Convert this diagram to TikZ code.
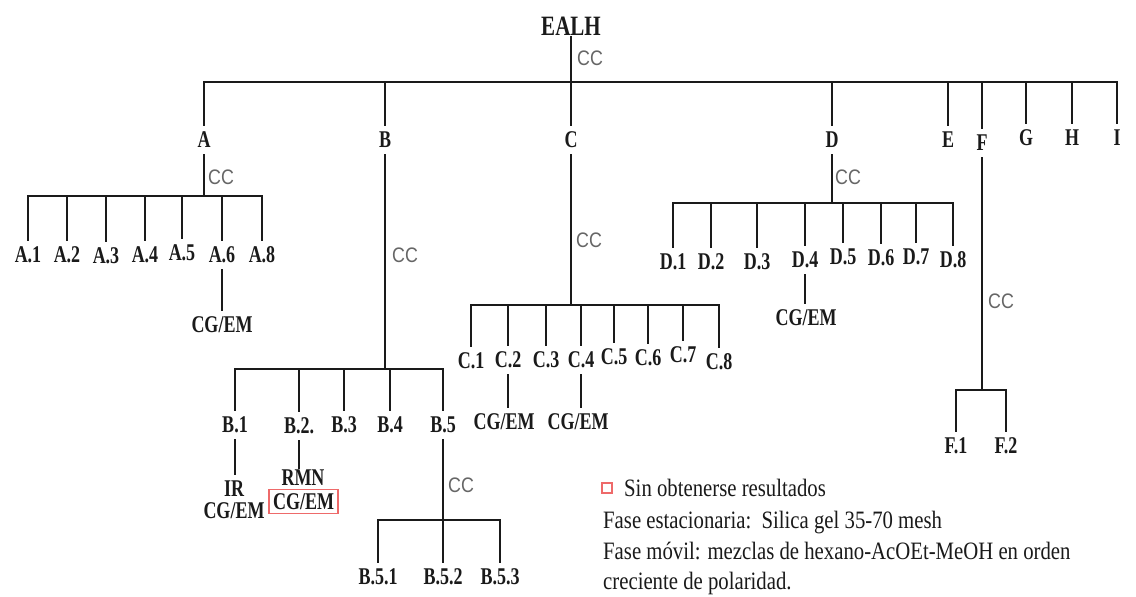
\documentclass[tikz,border=0pt]{standalone}
\usepackage{fontspec}
\setmainfont{Liberation Serif}
\newfontfamily\lblfont[FakeStretch=0.75]{Liberation Serif}
\newfontfamily\ccfont[FakeStretch=0.85]{Liberation Sans}
\newfontfamily\legfont[FakeStretch=0.83]{Liberation Serif}
\definecolor{ccgray}{HTML}{666666}
\definecolor{boxred}{HTML}{EE6A6A}
\definecolor{lnblack}{HTML}{1A1A1A}
\tikzset{
  lbl/.style={font=\lblfont\bfseries\fontsize{24}{24}\selectfont, text=lnblack,
    inner xsep=1pt, inner ysep=6pt, text height=15.8pt, text depth=0pt},
  rootlbl/.style={font=\lblfont\bfseries\fontsize{28}{28}\selectfont, text=lnblack,
    inner xsep=1pt, inner ysep=0.5pt, text height=18.5pt, text depth=0pt},
  cc/.style={font=\ccfont\fontsize{21}{21}\selectfont, text=ccgray, inner sep=0pt,
    anchor=west, text height=15pt, text depth=0pt},
  leg/.style={font=\legfont\fontsize{25}{25}\selectfont, text=lnblack, inner sep=0pt,
    anchor=west, text height=16.5pt, text depth=0pt},
  ln/.style={draw=lnblack, line width=2.8pt},
}
\begin{document}
\begin{tikzpicture}[x=1pt,y=-1pt]
\useasboundingbox[fill=white] (0,0) rectangle (1136,597);

% root
\node[rootlbl] (EALH) at (571,26) {EALH};
\coordinate (mainbar) at (571,82);
\node[cc] (ccroot) at (577,58) {CC};

% first level
\node[lbl] (A) at (204,140) {A};
\node[lbl] (B) at (385,140) {B};
\node[lbl] (C) at (571,140) {C};
\node[lbl] (D) at (832,140) {D};
\node[lbl] (E) at (948,140) {E};
\node[lbl] (F) at (982,143) {F};
\node[lbl] (G) at (1026,138) {G};
\node[lbl] (H) at (1072,138) {H};
\node[lbl] (I) at (1117,138) {I};

\draw[ln] (EALH.south) -- (mainbar);
\foreach \n in {A,B,D,E,F,G,H,I} \draw[ln] (\n.north) |- (mainbar);
\draw[ln] (mainbar) -- (C.north);

% ---- A branch
\coordinate (Abar) at (204,196);
\node[cc] (ccA) at (208,177) {CC};
\node[lbl] (A1) at (28,255) {A.1};
\node[lbl] (A2) at (67,255) {A.2};
\node[lbl] (A3) at (106,256) {A.3};
\node[lbl] (A4) at (145,255) {A.4};
\node[lbl] (A5) at (182,253) {A.5};
\node[lbl] (A6) at (222,255) {A.6};
\node[lbl] (A8) at (262,255) {A.8};
\draw[ln] (A.south) -- (Abar);
\foreach \n in {A1,A2,A3,A4,A5,A6,A8} \draw[ln] (\n.north) |- (Abar);
\node[lbl] (A6cg) at (222,325) {CG/EM};
\draw[ln] (A6.south) -- (A6cg.north);

% ---- B branch
\coordinate (Bbar) at (385,369);
\node[cc] (ccB) at (392,255) {CC};
\node[lbl] (B1) at (235,425) {B.1};
\node[lbl] (B2) at (299,426) {B.2.};
\node[lbl] (B3) at (344,425) {B.3};
\node[lbl] (B4) at (390,425) {B.4};
\node[lbl] (B5) at (443,425) {B.5};
\draw[ln] (B.south) -- (Bbar);
\foreach \n in {B1,B2,B3,B4,B5} \draw[ln] (\n.north) |- (Bbar);

\node[lbl, inner ysep=0pt] (B1ir) at (234,489) {IR};
\node[lbl, inner ysep=0pt] (B1cg) at (234,511) {CG/EM};
\draw[ln, shorten >=6pt] (B1.south) -- (B1.south |- B1ir.north);

\node[lbl, inner ysep=1pt] (B2rmn) at (303,478) {RMN};
\node[lbl, inner xsep=2pt, inner ysep=4pt, draw=boxred, line width=1.4pt,
      minimum width=69pt] (B2cg) at (303.5,501.5) {CG/EM};
\draw[ln] (B2.south) -- (B2.south |- B2rmn.north);

\coordinate (B5bar) at (443,520);
\node[cc] (ccB5) at (448,485) {CC};
\draw[ln] (B5.south) -- (B5bar);
\node[lbl] (B51) at (378,577) {B.5.1};
\node[lbl] (B52) at (443,577) {B.5.2};
\node[lbl] (B53) at (500,577) {B.5.3};
\draw[ln] (B5bar) -- (B52.north);
\draw[ln] (B51.north) |- (B5bar);
\draw[ln] (B53.north) |- (B5bar);

% ---- C branch
\coordinate (Cbar) at (571,305);
\node[cc] (ccC) at (576,240) {CC};
\node[lbl] (C1) at (471,361) {C.1};
\node[lbl] (C2) at (508,360) {C.2};
\node[lbl] (C3) at (546,360) {C.3};
\node[lbl] (C4) at (581,360) {C.4};
\node[lbl] (C5) at (614,357) {C.5};
\node[lbl] (C6) at (648,358) {C.6};
\node[lbl] (C7) at (683,355) {C.7};
\node[lbl] (C8) at (719,362) {C.8};
\draw[ln] (C.south) -- (Cbar);
\foreach \n in {C1,C2,C3,C4,C5,C6,C7,C8} \draw[ln] (\n.north) |- (Cbar);
\node[lbl] (C2cg) at (504,422) {CG/EM};
\node[lbl] (C4cg) at (578,422) {CG/EM};
\draw[ln] (C2.south) -- (C2.south |- C2cg.north);
\draw[ln] (C4.south) -- (C4.south |- C4cg.north);

% ---- D branch
\coordinate (Dbar) at (832,203);
\node[cc] (ccD) at (835,177) {CC};
\node[lbl] (D1) at (673,262) {D.1};
\node[lbl] (D2) at (711,262) {D.2};
\node[lbl] (D3) at (757,262) {D.3};
\node[lbl] (D4) at (805,260) {D.4};
\node[lbl] (D5) at (843,257) {D.5};
\node[lbl] (D6) at (881,258) {D.6};
\node[lbl] (D7) at (916,257) {D.7};
\node[lbl] (D8) at (953,260) {D.8};
\draw[ln] (D.south) -- (Dbar);
\foreach \n in {D1,D2,D3,D4,D5,D6,D7,D8} \draw[ln] (\n.north) |- (Dbar);
\node[lbl] (D4cg) at (806,318) {CG/EM};
\draw[ln] (D4.south) -- (D4.south |- D4cg.north);

% ---- F branch
\coordinate (Fbar) at (982,390);
\node[cc] (ccF) at (988,301) {CC};
\node[lbl] (F1) at (956,446) {F.1};
\node[lbl] (F2) at (1006,446) {F.2};
\draw[ln] (F.south) -- (Fbar);
\draw[ln] (F1.north) |- (Fbar);
\draw[ln] (F2.north) |- (Fbar);

% ---- legend
\node[draw=boxred, line width=1.4pt, minimum size=10pt, inner sep=0pt] (legbox) at (607,488) {};
\node[leg] (leg1) at (624,488) {Sin obtenerse resultados};
\node[leg] (leg2) at (603,520) {Fase estacionaria:\ \ Silica gel 35-70 mesh};
\node[leg] (leg3) at (603,551) {Fase móvil: mezclas de hexano-AcOEt-MeOH en orden};
\node[leg] (leg4) at (603,581) {creciente de polaridad.};
\end{tikzpicture}
\end{document}
